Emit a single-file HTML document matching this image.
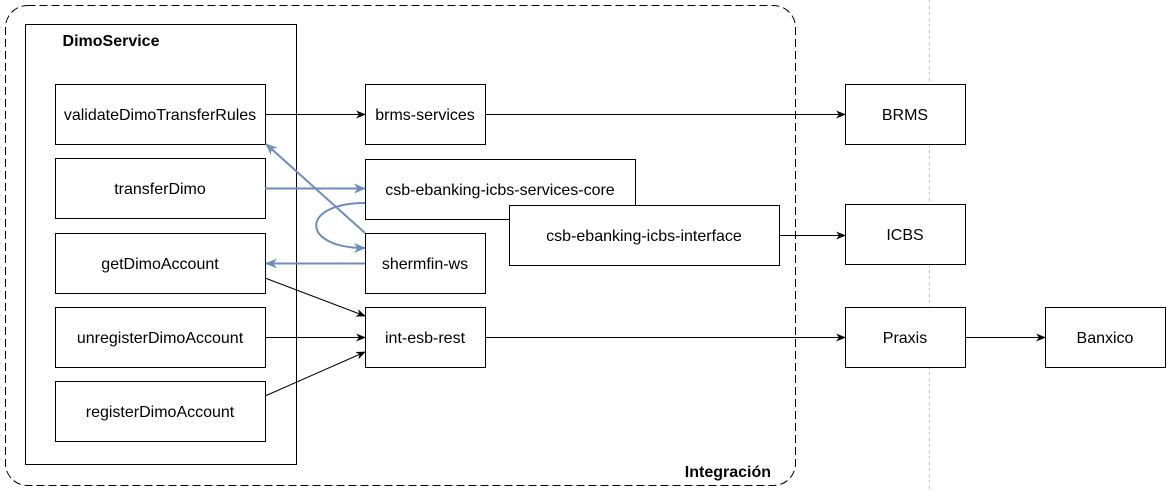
<!DOCTYPE html>
<html><head><meta charset="utf-8"><style>
html,body{margin:0;padding:0;background:#fff;}
svg{display:block;font-family:"Liberation Sans",Arial,sans-serif;}
</style></head><body>
<svg width="1172" height="491" viewBox="0 0 1172 491" xmlns="http://www.w3.org/2000/svg">
<defs>
<marker id="ab" markerWidth="10" markerHeight="8" refX="9" refY="4" orient="auto" markerUnits="userSpaceOnUse"><path d="M0,0 L10,4 L0,8 L3,4 Z" fill="#000"/></marker>
<marker id="ablu" markerWidth="12" markerHeight="10" refX="11" refY="5" orient="auto" markerUnits="userSpaceOnUse"><path d="M0,0 L12,5 L0,10 L3.5,5 Z" fill="#6c8ebf"/></marker>
</defs>
<line x1="929.5" y1="0" x2="929.5" y2="491" stroke="#c8c8c8" stroke-dasharray="3,3"/>
<rect x="5.5" y="5.5" width="790" height="480" rx="22" fill="none" stroke="#000" stroke-dasharray="8,4"/>
<text x="771" y="477" font-size="16" font-weight="bold" text-anchor="end">Integración</text>
<rect x="25.5" y="24.5" width="271" height="440" fill="#fff" stroke="#000"/>
<text x="111" y="46" font-size="16" font-weight="bold" text-anchor="middle">DimoService</text>
<g fill="#fff" stroke="#000">
<rect x="55.5" y="84.5" width="210" height="60"/>
<rect x="55.5" y="158.5" width="210" height="60"/>
<rect x="55.5" y="233.5" width="210" height="60"/>
<rect x="55.5" y="307.5" width="210" height="60"/>
<rect x="55.5" y="381.5" width="210" height="60"/>
<rect x="365.5" y="84.5" width="120" height="60"/>
<rect x="365.5" y="159.5" width="270" height="60"/>
<rect x="509.5" y="205.5" width="270" height="60"/>
<rect x="365.5" y="233.5" width="120" height="60"/>
<rect x="365.5" y="307.5" width="120" height="60"/>
<rect x="845.5" y="84.5" width="120" height="60"/>
<rect x="845.5" y="204.5" width="120" height="60"/>
<rect x="845.5" y="307.5" width="120" height="60"/>
<rect x="1045.5" y="307.5" width="120" height="60"/>
</g>
<g font-size="16" text-anchor="middle" fill="#000">
<text x="160" y="120">validateDimoTransferRules</text>
<text x="160" y="194">transferDimo</text>
<text x="160" y="269">getDimoAccount</text>
<text x="160" y="343">unregisterDimoAccount</text>
<text x="160" y="417">registerDimoAccount</text>
<text x="425" y="120">brms-services</text>
<text x="500" y="195">csb-ebanking-icbs-services-core</text>
<text x="644" y="241">csb-ebanking-icbs-interface</text>
<text x="425" y="269">shermfin-ws</text>
<text x="425" y="343">int-esb-rest</text>
<text x="905" y="120">BRMS</text>
<text x="905" y="240">ICBS</text>
<text x="905" y="343">Praxis</text>
<text x="1105" y="343">Banxico</text>
</g>
<g stroke="#000" fill="none" marker-end="url(#ab)">
<line x1="265" y1="114.5" x2="365" y2="114.5"/>
<line x1="485" y1="114.5" x2="845" y2="114.5"/>
<line x1="779" y1="235.5" x2="845" y2="235.5"/>
<line x1="265" y1="278" x2="365" y2="316"/>
<line x1="265" y1="337.5" x2="365" y2="337.5"/>
<line x1="265" y1="396" x2="365" y2="352"/>
<line x1="485" y1="337.5" x2="845" y2="337.5"/>
<line x1="965" y1="337.5" x2="1045" y2="337.5"/>
</g>
<g stroke="#6c8ebf" stroke-width="2" fill="none" marker-end="url(#ablu)">
<line x1="265" y1="188.5" x2="365" y2="188.5"/>
<line x1="365" y1="233" x2="266" y2="144"/>
<line x1="365" y1="263.5" x2="266" y2="263.5"/>
<path d="M365,203 C300,203 300,248 365,248"/>
</g>
</svg>
</body></html>
